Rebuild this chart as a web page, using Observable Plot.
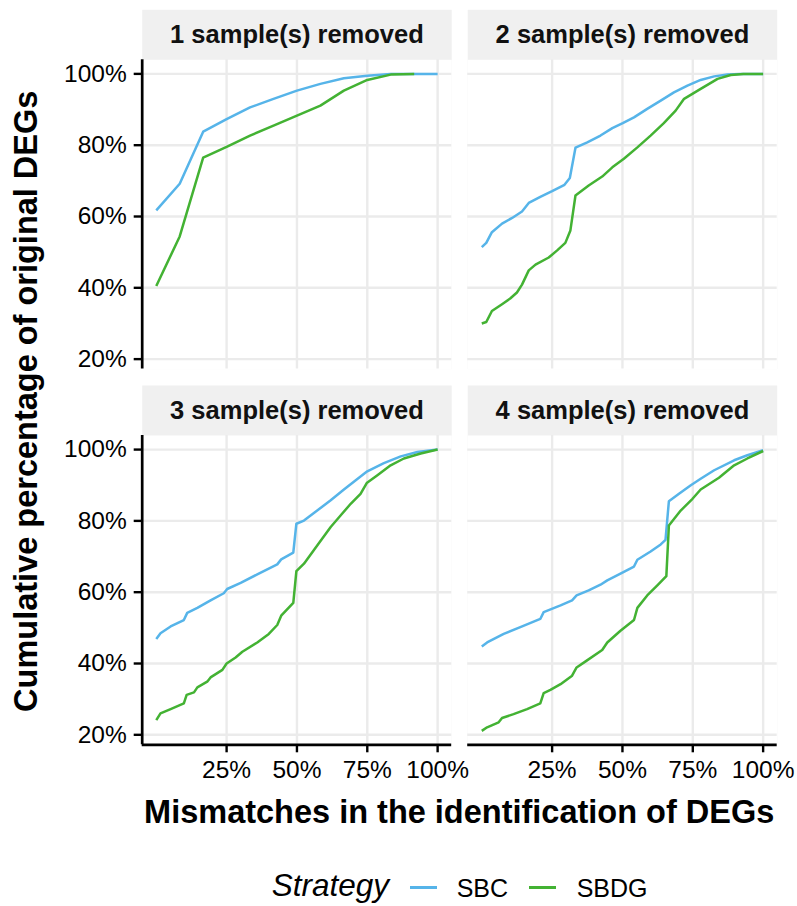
<!DOCTYPE html>
<html>
<head>
<meta charset="utf-8">
<script src="https://cdn.jsdelivr.net/npm/d3@7"></script>
<script src="https://cdn.jsdelivr.net/npm/@observablehq/plot@0.6"></script>
<style>
  html, body { margin: 0; padding: 0; background: white; }
  #wrap { position: relative; width: 797px; height: 906px; overflow: hidden; font-family: 'Liberation Sans', Arial, Helvetica, sans-serif; color: #000; }
  #wrap svg { display: block; }
  .abs { position: absolute; white-space: nowrap; }
</style>
</head>
<body>
<div id="wrap"></div>
<script>
// ---- data (percentages) ----
const panelLabels = ["1 sample(s) removed", "2 sample(s) removed", "3 sample(s) removed", "4 sample(s) removed"];
const strategies = ["SBC", "SBDG"];
const strategyColors = ["#56B4E9", "#43B233"];
const xTicks = [25, 50, 75, 100];
const yTicks = [20, 40, 60, 80, 100];

const p1_SBC = [[0,61.7],[8.33,69.2],[16.67,83.8],[25,87.3],[33.33,90.6],[41.67,93.0],[50,95.3],[58.33,97.2],[66.67,98.8],[75,99.5],[83.33,100],[91.67,100],[100,100]];
const p1_SBDG = [[0,40.5],[8.33,54.4],[16.67,76.5],[25,79.5],[33.33,82.7],[41.67,85.5],[50,88.3],[58.33,91.1],[66.67,95.3],[75,98.3],[83.33,99.8],[91.67,100]];

const p2_SBC = [[0,51.4],[1.6,52.6],[3.6,55.6],[7.2,58.0],[10.8,59.6],[14.3,61.4],[16.7,63.8],[20.8,65.5],[25,67.1],[29.4,68.9],[31.3,70.8],[33.3,79.3],[37.5,80.8],[42.2,82.7],[46.4,84.8],[50.1,86.2],[54.1,87.8],[58.8,90.2],[63.6,92.5],[68.3,94.8],[73.1,96.7],[77.8,98.3],[82.6,99.3],[87.3,99.8],[92,100],[100,100]];
const p2_SBDG = [[0,30.0],[1.6,30.4],[3.6,33.5],[7.2,35.4],[10.1,37.0],[12.5,38.7],[14.3,40.9],[16.7,44.9],[19.1,46.5],[23.8,48.5],[26.8,50.5],[29.7,52.6],[31.5,56.1],[33.3,65.9],[38.0,68.7],[42.8,71.2],[46.4,73.8],[50.5,76.2],[55.3,79.4],[60.0,82.7],[64.7,86.2],[68.9,89.7],[71.9,93.0],[77.8,95.8],[83.8,98.6],[88.5,99.7],[93,100],[100,100]];

const p3_SBC = [[0,46.9],[1.5,48.5],[5.1,50.4],[9.8,52.2],[11.0,54.2],[14.6,55.6],[19.3,57.7],[24.0,59.7],[25.2,60.9],[30.0,62.6],[35.9,65.0],[43.0,67.8],[44.4,69.2],[48.7,71.1],[49.8,79.2],[52.5,80.1],[57.2,82.9],[62.0,85.8],[66.7,88.8],[70.9,91.4],[75.0,93.9],[80.9,96.2],[86.9,98.1],[92.8,99.3],[100,100]];
const p3_SBDG = [[0,24.1],[1.5,26.0],[5.1,27.2],[9.8,28.8],[10.8,31.2],[13.4,31.9],[14.6,33.3],[18.1,34.9],[19.3,36.1],[23.5,38.2],[25.0,40.0],[28.2,41.7],[30.6,43.3],[35.9,45.9],[40.0,48.3],[43.0,50.8],[44.4,53.4],[48.7,57.0],[49.8,65.9],[52.5,68.0],[57.2,73.1],[62.0,78.3],[65.5,81.5],[69.1,84.8],[72.6,87.6],[74.8,90.6],[78.6,92.8],[83.3,95.6],[88.0,97.5],[94.0,98.9],[100,100]];

const p4_SBC = [[0,44.8],[1.9,45.9],[7.8,48.3],[13.7,50.2],[20.8,52.5],[22.0,54.4],[28.0,56.3],[32.1,57.7],[33.7,59.1],[38.0,60.5],[42.2,62.1],[44.6,63.3],[49.3,65.2],[54.1,67.2],[55.3,69.1],[60.0,71.4],[63.6,73.4],[65.3,74.7],[66.5,85.5],[70.1,87.6],[74.3,90.0],[77.8,91.8],[82.6,94.2],[89.7,97.0],[94.4,98.4],[100,99.8]];
const p4_SBDG = [[0,21.1],[1.9,22.1],[6.0,23.5],[7.2,24.7],[11.3,25.8],[16.1,27.2],[20.8,28.8],[22.0,31.7],[24.4,32.6],[28.0,34.2],[32.1,36.6],[33.7,38.9],[36.9,40.6],[42.8,43.8],[44.6,45.9],[49.3,49.2],[54.1,52.2],[55.3,55.6],[58.8,59.1],[62.4,61.9],[65.6,64.5],[66.5,78.7],[70.7,82.9],[74.9,86.2],[77.8,88.8],[84.3,92.1],[89.7,95.6],[94.4,97.5],[100,99.6]];

const seriesByPanel = [[p1_SBC, p1_SBDG], [p2_SBC, p2_SBDG], [p3_SBC, p3_SBDG], [p4_SBC, p4_SBDG]];

// ---- tables ----
const panels = panelLabels.map((label, i) => ({label, col: i % 2, row: Math.floor(i / 2)}));
const rows = [];
panels.forEach((p, i) => {
  seriesByPanel[i].forEach((pts, s) => {
    pts.forEach(([x, y]) => rows.push({x, y, strategy: strategies[s], col: p.col, row: p.row}));
  });
});
const leftPanels = panels.filter(p => p.col === 0);
const bottomPanels = panels.filter(p => p.row === 1);

const xDomain = [-5, 105];
const yDomain = [17.2, 103.95];
const pct = d => d + "%";
const FONT = "'Liberation Sans', Arial, Helvetica, sans-serif";

const chart = Plot.plot({
  width: 797,
  height: 790,
  marginLeft: 141.7,
  marginRight: 20.3,
  marginTop: 59.3,
  marginBottom: 45.7,
  style: {fontFamily: FONT, background: "white", color: "black", overflow: "visible"},
  fx: {domain: [0, 1], paddingInner: 0.0492, paddingOuter: 0, round: false, axis: null},
  fy: {domain: [0, 1], paddingInner: 0.1767, paddingOuter: 0, round: false, axis: null},
  x: {domain: xDomain},
  y: {domain: yDomain},
  color: {domain: strategies, range: strategyColors},
  marks: [
    Plot.frame({fill: "#f0f0f0", stroke: "none", insetTop: -50}),
    Plot.frame({fill: "white", stroke: "none"}),
    Plot.gridX({ticks: xTicks, stroke: "#ebebeb", strokeOpacity: 1, strokeWidth: 2.4}),
    Plot.gridY({ticks: yTicks, stroke: "#ebebeb", strokeOpacity: 1, strokeWidth: 2.4}),
    Plot.line(rows, {x: "x", y: "y", z: "strategy", stroke: "strategy", fx: "col", fy: "row", strokeWidth: 2.5, strokeLinejoin: "round", strokeLinecap: "butt"}),
    Plot.ruleX(leftPanels, {x: () => xDomain[0], fx: "col", fy: "row", stroke: "black", strokeWidth: 2.7}),
    Plot.ruleY(bottomPanels, {y: () => yDomain[0], fx: "col", fy: "row", stroke: "black", strokeWidth: 2.7}),
    Plot.axisY({ticks: yTicks, tickFormat: pct, tickSize: 8, tickPadding: 7.5, fontSize: 24.5, strokeWidth: 2.4, label: null}),
    Plot.axisX({ticks: xTicks, tickFormat: pct, tickSize: 8, tickPadding: 8, fontSize: 24.5, strokeWidth: 2.4, label: null}),
    Plot.text(panels, {fx: "col", fy: "row", text: "label", frameAnchor: "top", dy: -25, lineAnchor: "middle", fontSize: 25.5, fontWeight: "bold", fill: "#111"})
  ]
});

const wrap = document.getElementById("wrap");
wrap.appendChild(chart);

function addText(txt, css) {
  const d = document.createElement("div");
  d.className = "abs";
  d.textContent = txt;
  Object.assign(d.style, css);
  wrap.appendChild(d);
  return d;
}
// y-axis title (rotated)
addText("Cumulative percentage of original DEGs", {
  left: (25.75 - 350) + "px", top: (401.5 - 16.25) + "px", width: "700px", height: "32.5px",
  lineHeight: "32.5px", fontSize: "32.5px", fontWeight: "bold", textAlign: "center",
  transform: "rotate(-90deg)", transformOrigin: "50% 50%"
});
// x-axis title
addText("Mismatches in the identification of DEGs", {
  left: "141.7px", top: "795.5px", width: "635px", lineHeight: "32.5px", fontSize: "32.5px",
  fontWeight: "bold", textAlign: "center"
});
// legend
addText("Strategy", {left: "271.7px", top: (896.7 - 0.8465 * 31.5) + "px", fontSize: "31.5px", lineHeight: "31.5px", fontStyle: "italic"});
const keyX = [410, 529.3];
const labX = [456.7, 576.7];
strategies.forEach((s, i) => {
  const k = document.createElement("div");
  k.className = "abs";
  Object.assign(k.style, {left: keyX[i] + "px", top: "886px", width: "27px", height: "2.5px", background: strategyColors[i]});
  wrap.appendChild(k);
  addText(s, {left: labX[i] + "px", top: (896.7 - 0.8465 * 25) + "px", fontSize: "25px", lineHeight: "25px"});
});
</script>
</body>
</html>
